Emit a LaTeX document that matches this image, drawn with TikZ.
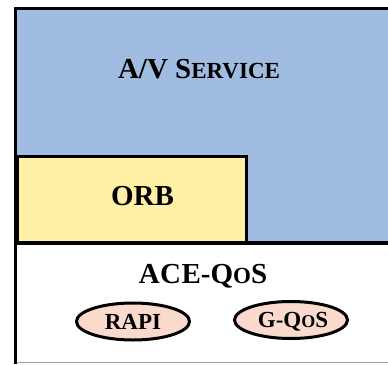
\documentclass[tikz,border=0pt]{standalone}
\usepackage{fontspec}
\setmainfont{Liberation Serif}
\usetikzlibrary{shapes.geometric}
\definecolor{avblue}{RGB}{160,188,224}
\definecolor{orbyellow}{RGB}{255,240,165}
\definecolor{peach}{RGB}{250,218,205}
\definecolor{edgegray}{RGB}{160,160,160}
\newcommand{\smc}[2]{{\fontsize{#1}{#1}\selectfont #2}}
\tikzset{
  border/.style={line width=3.2pt, black},
  bigtext/.style={font=\bfseries\fontsize{29}{29}\selectfont, inner sep=0pt, anchor=base},
  pill/.style={ellipse, draw=black, line width=3pt, fill=peach, inner sep=0pt,
    minimum width=113pt, minimum height=37pt, text height=15pt, text depth=0pt,
    font=\bfseries\fontsize{23}{23}\selectfont},
}
\begin{document}
\begin{tikzpicture}[x=1pt,y=-1pt]
\useasboundingbox (0,0) rectangle (388,364);
% blue service area
\fill[avblue] (15.5,8.5) rectangle (390,243);
% ORB box
\node[draw=black, line width=3.2pt, fill=orbyellow, minimum width=229pt, minimum height=88.5pt, inner sep=0pt, anchor=north west] (orb) at (15.5,155) {};
% white ACE-QoS area
\fill[white] (15.5,243) rectangle (390,362.5);
% borders
\draw[edgegray, line width=1pt] (15.5,362.5) -- (390,362.5);
\draw[border] (15.5,364) -- (15.5,8.5) -- (390,8.5);
\draw[border] (15.5,243) -- (390,243);
% texts
\node[bigtext] (av) at (199,78) {A/V S\smc{23}{ERVICE}};
\node[bigtext] (orbt) at (142.5,205) {ORB};
\node[bigtext] (ace) at (203,283) {A\kern0.5pt C\kern0.5pt E-Q\smc{23}{O}S};
\node[pill] (rapi) at (133,321.5) {RAPI};
\node[pill] (gqos) at (291,320) {\kern4pt G-Q\smc{18}{O}S};
\end{tikzpicture}
\end{document}
